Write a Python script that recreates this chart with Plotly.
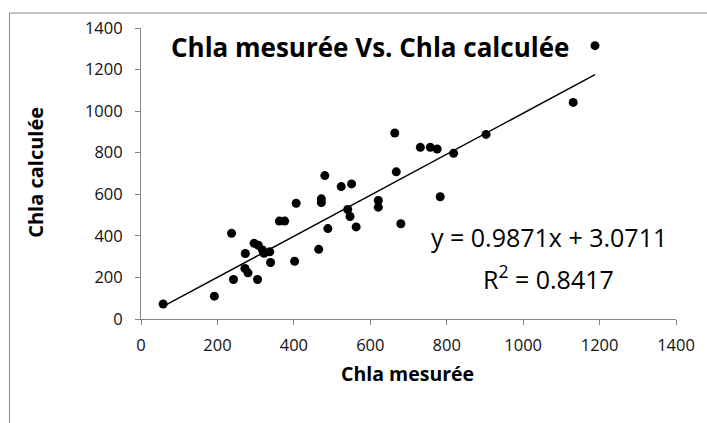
import plotly.graph_objects as go

chla_mesuree = [58, 192, 237, 242, 272, 280, 273, 296, 307, 305, 318, 322, 337, 339,
                362, 376, 402, 406, 465, 472, 472, 481, 489, 524, 541, 547, 551, 563,
                621, 621, 664, 668, 680, 731, 757, 775, 783, 818, 903, 1131, 1188]
chla_calculee = [72, 110, 412, 190, 243, 222, 315, 364, 355, 190, 332, 316, 323, 272,
                 471, 471, 278, 557, 335, 578, 560, 690, 435, 637, 527, 493, 650, 443,
                 570, 538, 895, 708, 458, 826, 826, 818, 588, 797, 888, 1042, 1315]
slope = 0.9871
intercept = 3.0711
r2 = 0.8417
ticks = [0, 200, 400, 600, 800, 1000, 1200, 1400]

xmin, xmax = min(chla_mesuree), max(chla_mesuree)
trend_x = [xmin, xmax]
trend_y = [slope * v + intercept for v in trend_x]

font = "Open Sans"
W, H = 707, 423
L, R, T, B = 141, 27, 28, 104
PW, PH = W - L - R, H - T - B


def px(x):
    return (x - L) / PW


def py(y):
    return (H - B - y) / PH


fig = go.Figure()
fig.add_trace(go.Scatter(x=trend_x, y=trend_y, mode="lines",
                         line=dict(color="black", width=1.5), hoverinfo="skip"))
fig.add_trace(go.Scatter(x=chla_mesuree, y=chla_calculee, mode="markers",
                         marker=dict(color="black", size=9)))

axis_common = dict(range=[0, 1400], tickvals=ticks, showgrid=False, zeroline=False,
                   showline=True, linecolor="#868686", linewidth=1,
                   ticks="outside", ticklen=5, tickcolor="#868686",
                   tickfont=dict(family=font, size=16.5, color="#111"))
fig.update_xaxes(**axis_common, ticklabelstandoff=6)
fig.update_yaxes(**axis_common, ticklabelstandoff=9)


def label(x, y, text, size, angle=0):
    fig.add_annotation(x=px(x), y=py(y), xref="paper", yref="paper", showarrow=False,
                       xanchor="center", yanchor="middle", text=text, textangle=angle,
                       font=dict(family=font, size=size, color="black"))


label(372, 47, "<b>Chla mesurée Vs. Chla calculée</b>", 26)
label(409, 373, "<b>Chla mesurée</b>", 19.5)
label(34, 172, "<b>Chla calculée</b>", 20, angle=-90)
label(552, 237, f"y = {slope}x + {intercept}", 25)
label(552, 277, f"R<sup>2</sup> = {r2}", 25)

# outer chart border
fig.add_shape(type="line", xref="paper", yref="paper", x0=px(8.5), x1=px(720), y0=py(13), y1=py(13),
              line=dict(color="#868686", width=1))
fig.add_shape(type="line", xref="paper", yref="paper", x0=px(8.5), x1=px(8.5), y0=py(13), y1=py(440),
              line=dict(color="#868686", width=1))

fig.update_layout(width=W, height=H, showlegend=False,
                  margin=dict(l=L, r=R, t=T, b=B),
                  paper_bgcolor="white", plot_bgcolor="white")
fig.write_html("out.html", config={"displayModeBar": False},
               post_script="document.body.style.margin='0';"
                           "document.documentElement.style.overflow='hidden';")
